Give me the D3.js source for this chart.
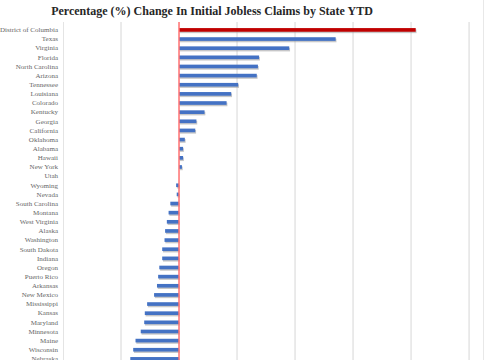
<!DOCTYPE html>
<html>
<head>
<meta charset="utf-8">
<script src="https://cdn.jsdelivr.net/npm/d3@7"></script>
<style>
  body { margin: 0; background: #fff; }
  svg { display: block; }
</style>
</head>
<body>
<svg id="chart"></svg>
<script>
var states = ["District of Columbia", "Texas", "Virginia", "Florida", "North Carolina", "Arizona",
  "Tennessee", "Louisiana", "Colorado", "Kentucky", "Georgia", "California", "Oklahoma", "Alabama",
  "Hawaii", "New York", "Utah", "Wyoming", "Nevada", "South Carolina", "Montana", "West Virginia",
  "Alaska", "Washington", "South Dakota", "Indiana", "Oregon", "Puerto Rico", "Arkansas",
  "New Mexico", "Mississippi", "Kansas", "Maryland", "Minnesota", "Maine", "Wisconsin", "Nebraska"];
var pctChange = [204, 135, 95, 69, 68, 67, 51, 45, 41, 22, 15, 14, 5, 3.5, 3.5, 2.5, 0, -2.5, -2,
  -7.5, -9, -10.5, -12, -12.5, -14.5, -14.5, -17, -18, -19, -21.5, -27.5, -29.5, -30, -33, -37.5,
  -39.5, -42];
var gridTicks = [-50, 0, 50, 100, 150, 200, 250];
var highlight = "District of Columbia";

var width = 485, height = 360;
var svg = d3.select("#chart").attr("width", width).attr("height", height);

// x runs a bit off the right edge, like the cropped original
var x = d3.scaleLinear().domain([-100, 262]).range([63, 483]);
var y = d3.scaleBand().domain(states).range([22.6, 22.6 + states.length * 9.286]).padding(0.6);

// title
svg.append("text")
  .attr("x", 212).attr("y", 14.5)
  .attr("text-anchor", "middle")
  .style("font-family", "'Liberation Serif', 'DejaVu Serif', serif")
  .style("font-weight", "bold")
  .style("font-size", "12px")
  .style("fill", "#262626")
  .text("Percentage (%) Change In Initial Jobless Claims by State YTD");

// gridlines
svg.append("g").selectAll("line")
  .data(gridTicks.filter(function(d) { return d != 0; }))
  .enter().append("line")
  .attr("x1", function(d) { return x(d); }).attr("x2", function(d) { return x(d); })
  .attr("y1", 22).attr("y2", height)
  .style("stroke", "#e0e0e0").style("stroke-width", 1.3);

// left edge of plot + right border
svg.append("line").attr("x1", 63.5).attr("x2", 63.5).attr("y1", 22).attr("y2", height)
  .style("stroke", "#e4e4e4").style("stroke-width", 1);
svg.append("line").attr("x1", 483.5).attr("x2", 483.5).attr("y1", 0).attr("y2", height)
  .style("stroke", "#e8e8e8").style("stroke-width", 1);

// bar shadows
svg.append("g").selectAll("rect")
  .data(pctChange)
  .enter().append("rect")
  .attr("x", function(d) { return Math.min(x(0), x(d)) + 0.8; })
  .attr("y", function(d, i) { return y(states[i]) + 1.4; })
  .attr("width", function(d) { return Math.abs(x(d) - x(0)); })
  .attr("height", y.bandwidth())
  .style("fill", "#9a9a9a").style("opacity", 0.55);

// bars
svg.append("g").selectAll("rect")
  .data(pctChange)
  .enter().append("rect")
  .attr("x", function(d) { return Math.min(x(0), x(d)); })
  .attr("y", function(d, i) { return y(states[i]); })
  .attr("width", function(d) { return Math.abs(x(d) - x(0)); })
  .attr("height", y.bandwidth())
  .style("fill", function(d, i) { return states[i] == highlight ? "#c00000" : "#4472c4"; });

// zero line
svg.append("line").attr("x1", x(0)).attr("x2", x(0)).attr("y1", 22).attr("y2", height)
  .style("stroke", "#ff6f6f").style("stroke-width", 1.5);

// state labels
svg.append("g").selectAll("text")
  .data(states)
  .enter().append("text")
  .attr("x", 58)
  .attr("y", function(d) { return y(d) + y.bandwidth() / 2 + 2.3; })
  .attr("text-anchor", "end")
  .style("font-family", "'Liberation Serif', 'DejaVu Serif', serif")
  .style("font-size", "7px")
  .style("fill", "#666")
  .text(function(d) { return d; });
</script>
</body>
</html>
